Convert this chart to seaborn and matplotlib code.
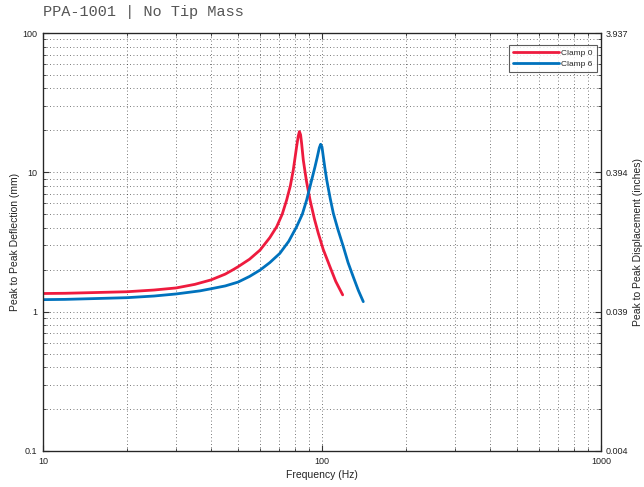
import numpy as np
import pandas as pd
import matplotlib
matplotlib.use('Agg')
import matplotlib.pyplot as plt
import matplotlib.ticker as mticker
import seaborn as sns

# values (Hz, mm peak-to-peak)
freq_clamp0 = [10, 12, 15, 20, 25, 30, 35, 40, 45, 48, 50, 55, 60, 65, 68.8, 72, 74.7, 77, 78.9, 80, 81.1, 82.2, 83, 83.8, 84.5, 85.7, 87, 88, 90.6, 94, 97, 101, 106.8, 112, 118.6]
defl_clamp0 = [1.35, 1.355, 1.37, 1.39, 1.43, 1.48, 1.57, 1.69, 1.86, 2.0, 2.1, 2.38, 2.77, 3.4, 4.07, 5.0, 6.33, 8.0, 10.4, 12.6, 15.3, 18.2, 19.6, 18.6, 16.2, 12.25, 10.0, 8.6, 6.33, 4.6, 3.65, 2.8, 2.1, 1.65, 1.32]

freq_clamp6 = [10, 12, 15, 20, 25, 30, 36.5, 40, 45, 50, 55, 60, 65, 70.6, 76, 81.1, 85, 88.1, 91, 94.4, 96.2, 97.8, 98.9, 100, 101.1, 102.5, 104, 107, 109.8, 114, 119.3, 124, 129.4, 135, 140.6]
defl_clamp6 = [1.22, 1.225, 1.24, 1.26, 1.295, 1.34, 1.41, 1.46, 1.53, 1.63, 1.79, 1.99, 2.25, 2.62, 3.2, 4.07, 5.0, 6.33, 8.2, 10.97, 12.9, 15.0, 15.9, 15.2, 12.9, 10.6, 8.8, 6.5, 5.08, 3.9, 2.92, 2.25, 1.78, 1.42, 1.18]

title_text = 'PPA-1001 | No Tip Mass'
series_names = ['Clamp 0', 'Clamp 6']
colors = ['#EE1B3E', '#0072BD']

df = pd.concat([
    pd.DataFrame({'freq': freq_clamp0, 'defl': defl_clamp0, 'series': series_names[0]}),
    pd.DataFrame({'freq': freq_clamp6, 'defl': defl_clamp6, 'series': series_names[1]}),
])

sns.set_style('ticks')
plt.rcParams['font.family'] = ['Liberation Sans', 'DejaVu Sans']
plt.rcParams['xtick.direction'] = 'in'
plt.rcParams['ytick.direction'] = 'in'
plt.rcParams['lines.solid_joinstyle'] = 'round'

fig = plt.figure(figsize=(6.44, 4.87), dpi=100)
ax = fig.add_axes([43/644, 36/487, 558/644, 418/487])

sns.lineplot(data=df, x='freq', y='defl', hue='series', palette=colors,
             linewidth=2, sort=False, estimator=None, ax=ax)

ax.set_xscale('log')
ax.set_yscale('log')
ax.set_xlim(10, 1000)
ax.set_ylim(0.1, 100)
fmt = mticker.FuncFormatter(lambda v, p: f'{v:g}')
ax.xaxis.set_major_formatter(fmt)
ax.yaxis.set_major_formatter(fmt)
ax.grid(True, which='both', linestyle=(0, (1, 3)), color='black', linewidth=0.6, alpha=0.7)
ax.tick_params(which='both', top=True, labelsize=6.5, color='#333333', labelcolor='#222222', pad=4)
ax.tick_params(which='major', length=4)
ax.tick_params(which='minor', length=2.5)
for s in ax.spines.values():
    s.set_linewidth(0.9)
    s.set_color('#222222')

ax.set_xlabel('Frequency (Hz)', fontsize=7.5, labelpad=3, color='#222222')
ax.set_ylabel('Peak to Peak Deflection (mm)', fontsize=7.5, labelpad=2, color='#222222')

# right axis in inches
ax2 = ax.twinx()
ax2.set_yscale('log')
ax2.set_ylim(0.1 / 25.4, 100 / 25.4)
ax2.yaxis.set_major_locator(mticker.FixedLocator([0.1 / 25.4, 1 / 25.4, 10 / 25.4, 100 / 25.4]))
ax2.yaxis.set_major_formatter(mticker.FuncFormatter(lambda v, p: f'{v:.3f}'))
ax2.yaxis.set_minor_locator(mticker.FixedLocator([m * d / 25.4 for d in [0.1, 1, 10] for m in range(2, 10)]))
ax2.yaxis.set_minor_formatter(mticker.NullFormatter())
ax2.tick_params(which='both', labelsize=6.5, direction='in', color='#333333', labelcolor='#222222', pad=3)
ax2.tick_params(which='major', length=4)
ax2.tick_params(which='minor', length=2.5)
ax2.set_ylabel('Peak to Peak Displacement (inches)', fontsize=7.5, labelpad=4, color='#222222')

leg = ax.legend(loc='upper right', bbox_to_anchor=(1 - 4/558, 1 - 12/418),
                fontsize=6, frameon=True, fancybox=False,
                edgecolor='#333333', handlelength=5.5, borderpad=0.5,
                labelspacing=0.35, handletextpad=0.3, borderaxespad=0)
leg.get_frame().set_linewidth(0.8)
leg.set_title(None)

fig.text(43/644, 1 - 12/487, title_text, fontsize=11, family='Liberation Mono',
         color='#555555', va='center', ha='left')

fig.savefig('out.png', dpi=100)
